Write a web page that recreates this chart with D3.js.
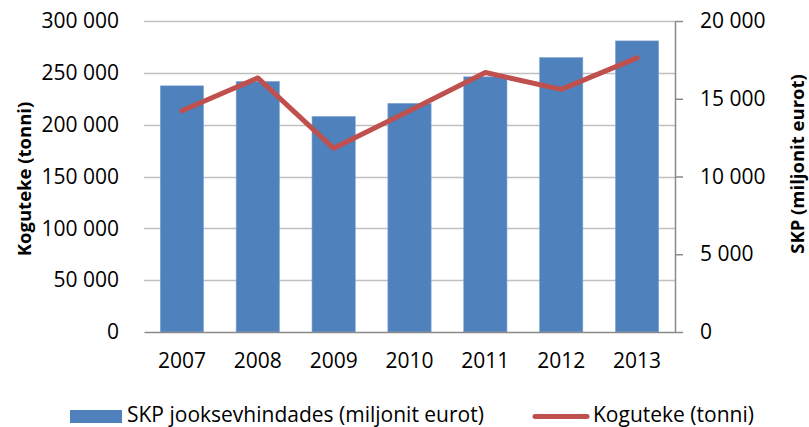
<!DOCTYPE html>
<html>
<head>
<meta charset="utf-8">
<script src="https://cdn.jsdelivr.net/npm/d3@7"></script>
<style>
  body { margin: 0; background: #fff; }
  svg { font-family: "Open Sans", sans-serif; }
</style>
</head>
<body>
<div id="chart"></div>
<script>
// data
var years = ["2007", "2008", "2009", "2010", "2011", "2012", "2013"];
var skp = [15830, 16110, 13860, 14700, 16410, 17650, 18720];          // SKP jooksevhindades (miljonit eurot), right axis
var koguteke = [213400, 245100, 177200, 213500, 250300, 234000, 264400]; // Koguteke (tonni), left axis
var leftTicks = [0, 50000, 100000, 150000, 200000, 250000, 300000];
var rightTicks = [0, 5000, 10000, 15000, 20000];

var w = 809,
    h = 427;

var fmt = d3.formatLocale({decimal: ",", thousands: " ", grouping: [3], currency: ["", ""]}).format(",d");

var svg = d3.select("#chart").append("svg")
    .attr("width", w)
    .attr("height", h);

var x = d3.scaleBand()
    .domain(years)
    .range([144, 675])
    .paddingInner(0.43)
    .paddingOuter(0.215);

var yL = d3.scaleLinear().domain([0, 300000]).range([332, 21]);
var yR = d3.scaleLinear().domain([0, 20000]).range([332, 21]);

//gridlines
svg.append("g").selectAll("line")
    .data(leftTicks.slice(1))
  .enter().append("line")
    .attr("x1", 144)
    .attr("x2", 675)
    .attr("y1", function(d){ return Math.round(yL(d)) + 0.5; })
    .attr("y2", function(d){ return Math.round(yL(d)) + 0.5; })
    .attr("stroke", "#c0c0c0")
    .attr("stroke-width", 1.5);

//bars (right axis)
svg.append("g").selectAll("rect")
    .data(skp)
  .enter().append("rect")
    .attr("x", function(d, i){ return x(years[i]); })
    .attr("width", x.bandwidth())
    .attr("y", function(d){ return yR(d); })
    .attr("height", function(d){ return yR(0) - yR(d); })
    .attr("fill", "#4f81bd")
    .attr("stroke", "#7fa4d3")
    .attr("stroke-width", 0.6);

//category axis
var xAxis = svg.append("g")
    .attr("transform", "translate(0,332)")
    .call(d3.axisBottom(x).tickSize(0).tickPadding(21));
xAxis.select(".domain").attr("stroke", "#8a8a8a").attr("stroke-width", 1.5);
xAxis.selectAll("text").attr("font-size", 21).attr("fill", "#000").attr("font-family", "Open Sans");

//left axis (labels only)
var lAxis = svg.append("g")
    .attr("transform", "translate(144,0)")
    .call(d3.axisLeft(yL).tickValues(leftTicks).tickFormat(fmt).tickSize(0).tickPadding(25));
lAxis.select(".domain").remove();
lAxis.selectAll("text").attr("font-size", 21).attr("fill", "#000").attr("font-family", "Open Sans");

//right axis
var rAxis = svg.append("g")
    .attr("transform", "translate(675,0)")
    .call(d3.axisRight(yR).tickValues(rightTicks).tickFormat(fmt).tickSize(8).tickSizeOuter(0).tickPadding(17));
rAxis.select(".domain").attr("stroke", "#8a8a8a").attr("stroke-width", 1.5);
rAxis.selectAll(".tick line").attr("stroke", "#8a8a8a").attr("stroke-width", 1.5);
rAxis.selectAll("text").attr("font-size", 21).attr("fill", "#000").attr("font-family", "Open Sans");

//line (left axis)
var line = d3.line()
    .x(function(d, i){ return x(years[i]) + x.bandwidth() / 2; })
    .y(function(d){ return yL(d); });

svg.append("path")
    .datum(koguteke)
    .attr("d", line)
    .attr("fill", "none")
    .attr("stroke", "#c0504d")
    .attr("stroke-width", 5)
    .attr("stroke-linejoin", "round")
    .attr("stroke-linecap", "round");

//axis titles
svg.append("text")
    .text("Koguteke (tonni)")
    .attr("transform", "translate(31,179) rotate(-90)")
    .attr("text-anchor", "middle")
    .attr("font-weight", "bold")
    .attr("font-size", 18.5);

svg.append("text")
    .text("SKP (miljonit eurot)")
    .attr("transform", "translate(804,164) rotate(-90)")
    .attr("text-anchor", "middle")
    .attr("font-weight", "bold")
    .attr("font-size", 18.5);

//legend
var legend = svg.append("g");
legend.append("rect")
    .attr("x", 70)
    .attr("y", 410)
    .attr("width", 52)
    .attr("height", 13)
    .attr("fill", "#4f81bd");
legend.append("text")
    .text("SKP jooksevhindades (miljonit eurot)")
    .attr("x", 127)
    .attr("y", 422)
    .attr("font-size", 21);
legend.append("line")
    .attr("x1", 535)
    .attr("x2", 587)
    .attr("y1", 416.5)
    .attr("y2", 416.5)
    .attr("stroke", "#c0504d")
    .attr("stroke-width", 5)
    .attr("stroke-linecap", "round");
legend.append("text")
    .text("Koguteke (tonni)")
    .attr("x", 593)
    .attr("y", 422)
    .attr("font-size", 21);
</script>
</body>
</html>
